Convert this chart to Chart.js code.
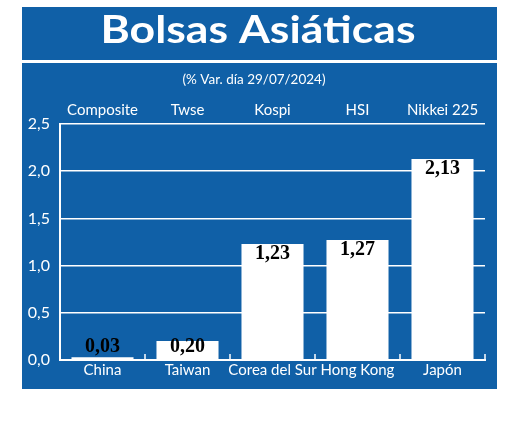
<!DOCTYPE html>
<html>
<head>
<meta charset="utf-8">
<script src="https://cdn.jsdelivr.net/npm/chart.js@4"></script>
<style>
  html, body { margin: 0; padding: 0; background: #ffffff; }
  #wrap { width: 520px; height: 426px; }
</style>
</head>
<body>
<div id="wrap"><canvas id="c" width="520" height="426"></canvas></div>
<script>
const titleText = "Bolsas Asiáticas";
const subtitleText = "(% Var. día 29/07/2024)";
const countries = ["China", "Taiwan", "Corea del Sur", "Hong Kong", "Japón"];
const indexNames = ["Composite", "Twse", "Kospi", "HSI", "Nikkei 225"];
const changes = [0.03, 0.20, 1.23, 1.27, 2.13];
const yTicks = [0, 0.5, 1.0, 1.5, 2.0, 2.5];

const BLUE = "#1060a7";
const fmt = v => v.toFixed(2).replace(".", ",");

const frame = {
  id: "frame",
  beforeDraw(chart) {
    const ctx = chart.ctx;
    ctx.save();
    ctx.fillStyle = BLUE;
    ctx.fillRect(22, 7, 475, 382);
    ctx.fillStyle = "#ffffff";
    ctx.fillRect(22, 60, 475, 3);
    ctx.textAlign = "center";
    ctx.textBaseline = "alphabetic";
    // title, stretched to the width it has in the reference
    ctx.font = "bold 38px Lato";
    const tw = ctx.measureText(titleText).width;
    ctx.save();
    ctx.translate(258, 43);
    ctx.scale(315 / tw, 1);
    ctx.fillText(titleText, 0, 0);
    ctx.restore();
    ctx.font = "14px Lato";
    const sw = ctx.measureText(subtitleText).width;
    ctx.save();
    ctx.translate(254, 84);
    ctx.scale(143 / sw, 1);
    ctx.fillText(subtitleText, 0, 0);
    ctx.restore();
    ctx.restore();
  },
  afterDatasetsDraw(chart) {
    const ctx = chart.ctx;
    const area = chart.chartArea;
    ctx.save();
    // inner tick marks at category boundaries
    const w = (area.right - area.left) / countries.length;
    ctx.strokeStyle = "#ffffff";
    ctx.lineWidth = 1.5;
    for (let k = 1; k <= countries.length; k++) {
      const x = Math.round(area.left + k * w);
      ctx.beginPath();
      ctx.moveTo(x, area.bottom);
      ctx.lineTo(x, area.bottom - 6);
      ctx.stroke();
    }
    // value labels
    const meta = chart.getDatasetMeta(0);
    ctx.fillStyle = "#000000";
    ctx.font = "bold 20px 'Liberation Serif'";
    ctx.textAlign = "center";
    ctx.textBaseline = "middle";
    meta.data.forEach((bar, i) => {
      const y = Math.min(bar.y + 10, bar.base - 12);
      ctx.fillText(fmt(changes[i]), bar.x, y);
    });
    ctx.restore();
  }
};

new Chart(document.getElementById("c"), {
  type: "bar",
  data: {
    labels: countries,
    datasets: [{
      data: changes,
      backgroundColor: "#ffffff",
      borderWidth: 0,
      barPercentage: 0.73,
      categoryPercentage: 1.0
    }]
  },
  options: {
    responsive: false,
    devicePixelRatio: 1,
    animation: false,
    layout: { padding: { left: 0, right: 35, top: 0, bottom: 36 } },
    plugins: { legend: { display: false }, tooltip: { enabled: false } },
    scales: {
      x: {
        position: "bottom",
        grid: { display: false, drawTicks: false },
        border: { display: true, color: "#ffffff", width: 2 },
        ticks: { color: "#ffffff", font: { family: "Lato", size: 15 }, padding: 1, maxRotation: 0, autoSkip: false },
        afterFit(s) { s.height = 30; }
      },
      x2: {
        type: "category",
        position: "top",
        labels: indexNames,
        offset: true,
        grid: { display: false, drawTicks: false },
        border: { display: false },
        ticks: { color: "#ffffff", font: { family: "Lato", size: 15 }, padding: 5, maxRotation: 0, autoSkip: false },
        afterFit(s) { s.height = 124; }
      },
      y: {
        min: 0,
        max: 2.5,
        afterBuildTicks(s) { s.ticks = yTicks.map(v => ({ value: v })); },
        grid: { color: "#ffffff", lineWidth: 1.5, drawTicks: false },
        border: { display: true, color: "#ffffff", width: 2 },
        ticks: {
          color: "#ffffff",
          font: { family: "Lato", size: 16 },
          padding: 10,
          callback: v => v.toFixed(1).replace(".", ",")
        },
        afterFit(s) { s.width = 60; }
      }
    }
  },
  plugins: [frame]
});
</script>
</body>
</html>
